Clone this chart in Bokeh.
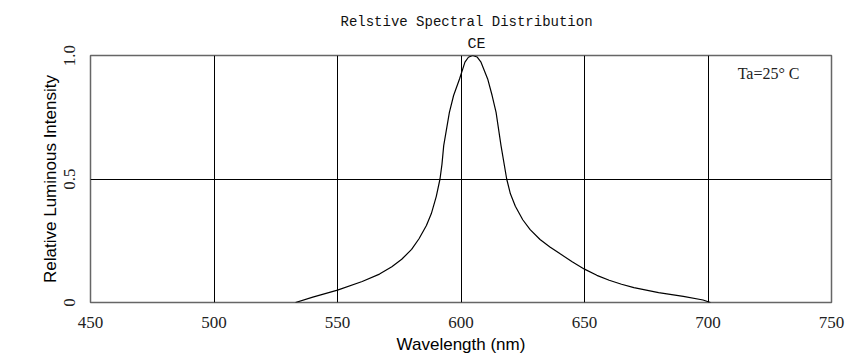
from bokeh.plotting import figure
from bokeh.models import FixedTicker, Title, Label
from bokeh.embed import file_html
from bokeh.resources import INLINE

wavelength = [533, 540, 550, 560, 567, 572, 576, 580, 583, 586, 588, 590, 591.5, 592.3, 593,
              595.3, 597, 599.4, 601.6, 603, 604.7, 606.5, 608.1, 610.8, 612.6, 614.2, 616.2,
              618.5, 620, 622, 625, 628, 632, 636, 640, 645, 650, 655, 660, 665, 670, 680, 690,
              698, 701]
intensity = [0.0, 0.022, 0.05, 0.085, 0.115, 0.145, 0.175, 0.215, 0.258, 0.312, 0.36, 0.43, 0.5,
             0.56, 0.635, 0.77, 0.838, 0.905, 0.973, 0.993, 1.0, 0.994, 0.973, 0.905, 0.838,
             0.77, 0.635, 0.5, 0.44, 0.39, 0.335, 0.295, 0.255, 0.225, 0.198, 0.165, 0.135,
             0.11, 0.09, 0.074, 0.06, 0.04, 0.025, 0.01, 0.0]
x_ticks = [450, 500, 550, 600, 650, 700, 750]
y_ticks = [0, 0.5, 1.0]
y_tick_labels = {0: "0", 0.5: "0.5", 1: "1.0"}

serif = "Liberation Serif"
mono = "Liberation Mono"

p = figure(width=851, height=359, output_backend="svg", toolbar_location=None,
           x_range=(450, 750), y_range=(0, 1),
           min_border_left=90, min_border_right=20, min_border_top=55, min_border_bottom=57)
p.background_fill_color = "white"
p.border_fill_color = "white"
p.outline_line_color = "#666666"
p.outline_line_width = 1.5

p.line(wavelength, intensity, line_color="black", line_width=1.2)

p.xaxis.ticker = FixedTicker(ticks=x_ticks)
p.yaxis.ticker = FixedTicker(ticks=y_ticks)
p.yaxis.major_label_overrides = y_tick_labels
for ax in (p.xaxis, p.yaxis):
    ax.axis_line_color = None
    ax.major_tick_line_color = None
    ax.minor_tick_line_color = None
    ax.major_label_text_font = serif
    ax.major_label_text_font_size = "17px"
    ax.major_label_text_color = "#222222"
    ax.axis_label_text_font = "Liberation Sans"
    ax.axis_label_text_font_size = "17px"
    ax.axis_label_text_font_style = "normal"
    ax.axis_label_text_color = "black"
p.xaxis.axis_label = "Wavelength (nm)"
p.yaxis.axis_label = "Relative Luminous Intensity"
p.xaxis.major_label_standoff = 8
p.yaxis.major_label_standoff = 10
p.xaxis.axis_label_standoff = 4
p.yaxis.axis_label_standoff = 1
p.yaxis.major_label_orientation = "vertical"

p.xgrid.grid_line_color = "black"
p.ygrid.grid_line_color = "black"
p.xgrid.grid_line_width = 1
p.ygrid.grid_line_width = 1

p.title.visible = False
p.add_layout(Title(text="CE", align="left", text_font=mono, text_font_size="15px",
                   text_font_style="normal", text_color="#111111", offset=377, standoff=6), "above")
p.add_layout(Title(text="Relstive Spectral Distribution", align="left", text_font=mono,
                   text_font_size="14px", text_font_style="normal", text_color="#111111",
                   offset=250, standoff=2), "above")

p.add_layout(Label(x=712, y=0.927, text="Ta=25° C", text_font=serif, text_font_size="16px",
                   text_baseline="middle", text_align="left", text_color="#222222"))

open("out.html", "w").write(file_html(p, INLINE))
